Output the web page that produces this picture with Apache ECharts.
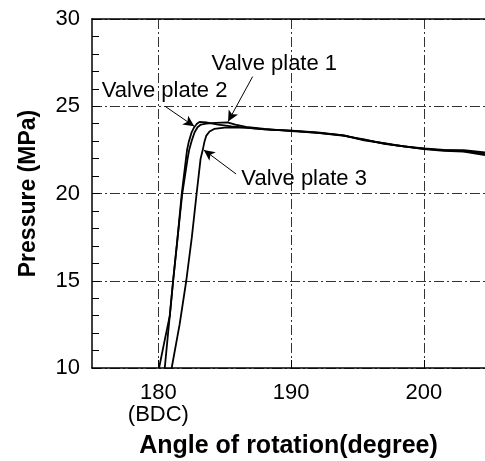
<!DOCTYPE html>
<html>
<head>
<meta charset="utf-8">
<script src="https://cdn.jsdelivr.net/npm/echarts@6/dist/echarts.min.js"></script>
<style>
  html, body { margin: 0; padding: 0; background: #fff; }
  #main { width: 485px; height: 461px; }
</style>
</head>
<body>
<div id="main"></div>
<script>
// 数据: 角度(度) / 压力(MPa)
var plate1Angle = [180.48, 180.73, 180.86, 181.11, 181.45, 181.8, 182.0, 182.2, 182.32, 182.5, 182.72, 182.95, 183.2, 183.6, 184.3, 185.2, 185.8, 186.6, 188, 190, 192, 194, 195.5, 197, 198.5, 200, 201.5, 203, 204.6];
var plate1Press = [10, 12, 13, 15, 17.5, 20, 21, 22, 22.5, 23, 23.5, 23.8, 23.95, 24.0, 24.05, 24.08, 23.95, 23.82, 23.7, 23.58, 23.48, 23.33, 23.05, 22.88, 22.7, 22.58, 22.5, 22.48, 22.35];

var plate2Angle = [180.05, 180.45, 180.86, 181.11, 181.45, 181.76, 181.92, 182.08, 182.16, 182.3, 182.5, 182.7, 182.9, 183.1, 183.6, 184.5, 185.5, 187, 188.5, 190, 192, 193.8, 195, 196.5, 198, 199.5, 201, 202.5, 203.5, 204.6];
var plate2Press = [10, 11.5, 13, 15, 17.5, 20, 21, 22, 22.5, 23, 23.5, 23.8, 24.0, 24.1, 24.08, 23.95, 23.85, 23.75, 23.65, 23.6, 23.5, 23.35, 23.15, 22.95, 22.75, 22.6, 22.5, 22.45, 22.4, 22.25];

var plate3Angle = [181.0, 181.6, 182.1, 182.52, 182.88, 183.18, 183.33, 183.48, 183.6, 183.85, 184.2, 185, 186.5, 188, 190, 192, 194, 195.5, 197, 198.5, 200, 201.5, 203, 204.6];
var plate3Press = [10, 12.5, 15, 17.5, 20, 22, 22.46, 23.0, 23.3, 23.55, 23.7, 23.78, 23.78, 23.68, 23.6, 23.48, 23.3, 23.1, 22.85, 22.7, 22.55, 22.45, 22.4, 22.2];

var xTicks = [180, 190, 200];
var labelNames = ['Valve plate 1', 'Valve plate 2', 'Valve plate 3'];
// 标注文字位置 (数据坐标)
var labelPos = [[184.0, 27.4], [175.74, 25.89], [186.25, 20.86]];
// 箭头: 起点 -> 终点
var arrowFrom = [[187.1, 26.7], [180.5, 25.0], [185.85, 21.12]];
var arrowTo = [[185.25, 24.12], [182.7, 23.85], [183.42, 22.5]];

function pairs(xs, ys) {
    var out = [];
    for (var i = 0; i < xs.length; i++) {
        out.push([xs[i], ys[i]]);
    }
    return out;
}

var font = 'Liberation Sans, Arial, Helvetica, sans-serif';
var gridLine = {
    show: true,
    lineStyle: {color: '#333', width: 1, type: [10, 3, 2, 3]}
};

var chart = echarts.init(document.getElementById('main'));

var arrowData = [];
for (var i = 0; i < arrowFrom.length; i++) {
    arrowData.push([{coord: arrowFrom[i]}, {coord: arrowTo[i]}]);
}

var option = {
    animation: false,
    backgroundColor: '#fff',
    grid: {left: 92, right: 0, top: 19, bottom: 93, outerBoundsMode: 'none'},
    xAxis: [{
        type: 'value',
        min: 175,
        max: 204.6,
        name: 'Angle of rotation(degree)',
        nameLocation: 'middle',
        nameGap: 66,
        nameTextStyle: {color: '#000', fontSize: 25, fontWeight: 'bold', fontFamily: font},
        axisLine: {show: true, lineStyle: {color: '#000', width: 1.5}},
        axisTick: {show: true, inside: true, length: 8, customValues: xTicks, lineStyle: {color: '#000'}},
        axisLabel: {
            customValues: xTicks,
            color: '#000',
            fontSize: 22,
            fontFamily: font,
            margin: 14,
            lineHeight: 22,
            formatter: function (v) {
                return v === 180 ? '180\n(BDC)' : String(v);
            }
        },
        splitLine: gridLine
    }, {
        type: 'value',
        position: 'top',
        min: 175,
        max: 204.6,
        axisLine: {show: true, lineStyle: {color: '#000', width: 1.5}},
        axisTick: {show: false},
        axisLabel: {show: false},
        splitLine: {show: false}
    }],
    yAxis: {
        type: 'value',
        min: 10,
        max: 30,
        interval: 5,
        name: 'Pressure (MPa)',
        nameLocation: 'middle',
        nameGap: 52,
        nameTextStyle: {color: '#000', fontSize: 23, fontWeight: 'bold', fontFamily: font},
        axisLine: {show: true, lineStyle: {color: '#000', width: 1.5}},
        axisTick: {show: true, inside: true, length: 8, lineStyle: {color: '#000'}},
        minorTick: {show: true, splitNumber: 5, length: 7, lineStyle: {color: '#000'}},
        axisLabel: {color: '#000', fontSize: 22, fontFamily: font, margin: 12},
        splitLine: gridLine
    },
    series: [{
        name: labelNames[0],
        type: 'line',
        data: pairs(plate1Angle, plate1Press),
        showSymbol: false,
        clip: true,
        lineStyle: {color: '#000', width: 1.8},
        markLine: {
            silent: true,
            symbol: ['none', 'arrow'],
            symbolSize: [8, 11],
            label: {show: false},
            lineStyle: {color: '#000', width: 1, type: 'solid'},
            data: arrowData
        }
    }, {
        name: labelNames[1],
        type: 'line',
        data: pairs(plate2Angle, plate2Press),
        showSymbol: false,
        clip: true,
        lineStyle: {color: '#000', width: 1.8}
    }, {
        name: labelNames[2],
        type: 'line',
        data: pairs(plate3Angle, plate3Press),
        showSymbol: false,
        clip: true,
        lineStyle: {color: '#000', width: 1.8}
    }]
};
chart.setOption(option);

// 标注文字
var texts = [];
for (var j = 0; j < labelNames.length; j++) {
    var p = chart.convertToPixel({gridIndex: 0}, labelPos[j]);
    texts.push({
        type: 'text',
        x: p[0],
        y: p[1],
        silent: true,
        style: {
            text: labelNames[j],
            fill: '#000',
            fontSize: 22,
            fontFamily: font,
            verticalAlign: 'middle',
            align: 'left'
        }
    });
}
chart.setOption({graphic: texts});
</script>
</body>
</html>
